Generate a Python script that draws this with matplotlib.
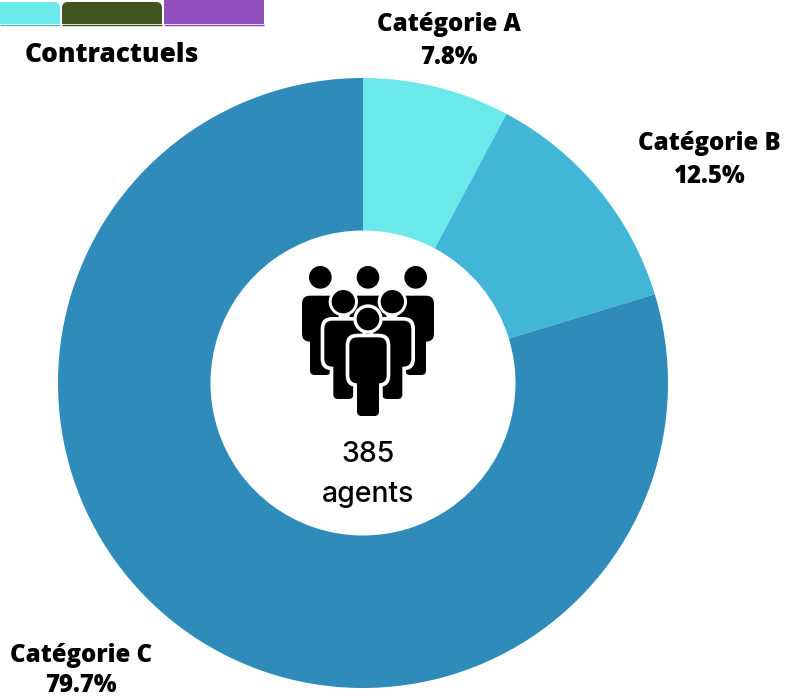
# Contractuels donut
import matplotlib
matplotlib.use('Agg')
import matplotlib.pyplot as plt
from matplotlib.patches import Circle, FancyBboxPatch, Rectangle

categories = ['Catégorie A', 'Catégorie B', 'Catégorie C']
shares = [7.8, 12.5, 79.7]
colors = ['#6AE8EA', '#41B6D7', '#2E8BBA']
W, H = 787, 697

fig = plt.figure(figsize=(W / 100, H / 100), dpi=100)

# donut, centre 363,383 and radius 305 in pixels
ax = fig.add_axes([58 / W, 1 - 688 / H, 610 / W, 610 / H])
ax.pie(shares, colors=colors, startangle=90, counterclock=False, radius=1,
       wedgeprops={'width': 0.5, 'linewidth': 0})
ax.set_xlim(-1, 1)
ax.set_ylim(-1, 1)

# overlay in pixel coordinates for texts and tabs
top = fig.add_axes([0, 0, 1, 1])
top.set_xlim(0, W)
top.set_ylim(H, 0)
top.axis('off')
top.patch.set_alpha(0)


def tab(x0, x1, y0, color):
    top.add_patch(FancyBboxPatch((x0 + 6, y0 + 6), x1 - x0 - 12, 30, boxstyle='round,pad=6', fc=color, ec='none'))


tab(-20, 60, 2, '#6AE8EA')
tab(62, 162, 2, '#3F5522')
top.add_patch(Rectangle((164, 0), 100, 30, fc='#9150BD', ec='none'))
top.add_patch(Rectangle((0, 24), 270, 30, fc='white', ec='none'))
top.plot([0, 60], [24.5, 24.5], color='#5BB5B8', lw=1, solid_capstyle='butt')
top.plot([62, 162], [24.5, 24.5], color='#3A4E20', lw=1, solid_capstyle='butt')
top.plot([164, 264], [24.5, 24.5], color='#8549AE', lw=1, solid_capstyle='butt')

label = dict(family='Open Sans', fontweight='extra bold', color='black', ha='center', va='center', fontsize=17.3)
top.text(112, 55.5, 'Contractuels', **{**label, 'fontsize': 18.9})
top.text(449, 24.5, categories[0], **label)
top.text(449, 57.5, f'{shares[0]}%', **label)
top.text(709, 143.5, categories[1], **label)
top.text(709, 176.5, f'{shares[1]}%', **label)
top.text(81, 655.5, categories[2], **label)
top.text(81, 685, f'{shares[2]}%', **label)

center = dict(family='Inter', fontsize=20.5, fontweight='medium', color='black', ha='center', va='center')
top.text(368, 454, '385', **center)
top.text(368, 495, 'agents', **center)

# people icon, units are 1/3 pixel
icon = fig.add_axes([280 / W, 1 - 430 / H, 180 / W, 180 / H])
icon.set_xlim(0, 540)
icon.set_ylim(540, 0)
icon.axis('off')
icon.patch.set_alpha(0)


def box(x0, y0, x1, y1, r, color='black', z=1):
    icon.add_patch(FancyBboxPatch((x0 + r, y0 + r), x1 - x0 - 2 * r, y1 - y0 - 2 * r,
                                  boxstyle=f'round,pad={r}', fc=color, ec='none', zorder=z))


def person(cx, head_y, head_r, torso_y, torso_w, torso_b, leg_w, leg_b, ring, head_ring, z):
    # white outline first, then the black shape
    icon.add_patch(Circle((cx, head_y), head_r + head_ring, fc='white', ec='none', zorder=z))
    box(cx - torso_w - ring, torso_y - ring, cx + torso_w + ring, torso_b + ring, 24 + ring, 'white', z)
    box(cx - leg_w - ring, torso_y, cx + leg_w + ring, leg_b + ring, 14 + ring, 'white', z)
    icon.add_patch(Circle((cx, head_y), head_r, fc='black', ec='none', zorder=z + 1))
    box(cx - torso_w, torso_y, cx + torso_w, torso_b, 24, 'black', z + 1)
    box(cx - leg_w, torso_y + 40, cx + leg_w, leg_b, 14, 'black', z + 1)


for cx in (121, 264, 407):
    person(cx, 82, 34, 137, 55, 275, 31, 375, 0, 0, 1)
for cx in (190, 337):
    person(cx, 155, 35, 212, 57, 350, 30, 447, 11, 9, 3)
person(264, 207, 34, 262, 56, 400, 33, 498, 11, 10, 5)

fig.savefig('out.png', dpi=100)
